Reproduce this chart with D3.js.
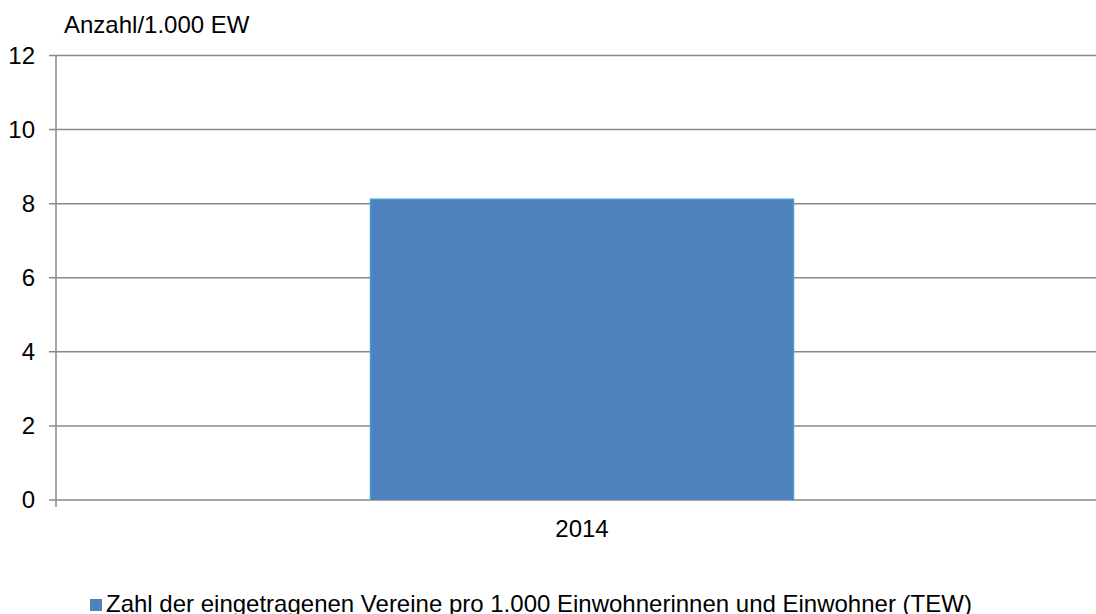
<!DOCTYPE html>
<html>
<head>
<meta charset="utf-8">
<script src="https://cdn.jsdelivr.net/npm/d3@7"></script>
<style>
  body { margin: 0; background: #fff; }
  text { font-family: "Liberation Sans", Arial, sans-serif; fill: #000; }
</style>
</head>
<body>
<script>
// data
const categories = ["2014"];
const values = [8.12];
const yTicks = [0, 2, 4, 6, 8, 10, 12];
const yTitle = "Anzahl/1.000 EW";
const seriesName = "Zahl der eingetragenen Vereine pro 1.000 Einwohnerinnen und Einwohner (TEW)";

const W = 1096, H = 614;
const plotLeft = 56, plotRight = 1108, plotTop = 55.5, plotBottom = 500;
const fontSize = "24px";

const svg = d3.select("body").append("svg")
  .attr("width", W)
  .attr("height", H);

const x = d3.scaleBand().domain(categories).range([plotLeft, plotRight]).padding(0.4265);
const y = d3.scaleLinear().domain([0, 12]).range([plotBottom, plotTop]);

// gridlines
svg.append("g")
  .selectAll("line")
  .data(yTicks)
  .join("line")
  .attr("x1", plotLeft - 7)
  .attr("x2", plotRight)
  .attr("y1", d => y(d))
  .attr("y2", d => y(d))
  .attr("stroke", "#888")
  .attr("stroke-width", 1.5);

// y axis line
svg.append("line")
  .attr("x1", plotLeft).attr("x2", plotLeft)
  .attr("y1", plotTop).attr("y2", plotBottom + 7)
  .attr("stroke", "#888")
  .attr("stroke-width", 1.5);

// y tick labels
svg.append("g")
  .selectAll("text")
  .data(yTicks)
  .join("text")
  .attr("x", 35)
  .attr("y", d => y(d))
  .attr("dy", "0.35em")
  .attr("text-anchor", "end")
  .style("font-size", fontSize)
  .text(d => d);

// bars
svg.append("g")
  .selectAll("rect")
  .data(values)
  .join("rect")
  .attr("x", (d, i) => x(categories[i]))
  .attr("y", d => y(d))
  .attr("width", x.bandwidth())
  .attr("height", d => plotBottom - y(d))
  .attr("fill", "#4f81bd");

// bar outline (top, left, right)
svg.append("g")
  .selectAll("path")
  .data(values)
  .join("path")
  .attr("d", (d, i) => {
    const x0 = x(categories[i]), x1 = x0 + x.bandwidth();
    return `M${x0},${plotBottom}V${y(d)}H${x1}V${plotBottom}`;
  })
  .attr("fill", "none")
  .attr("stroke", "#409ed6")
  .attr("stroke-width", 1.5);

// x category labels
svg.append("g")
  .selectAll("text")
  .data(categories)
  .join("text")
  .attr("x", d => x(d) + x.bandwidth() / 2)
  .attr("y", 537)
  .attr("text-anchor", "middle")
  .style("font-size", fontSize)
  .text(d => d);

// y title
svg.append("text")
  .attr("x", 64)
  .attr("y", 33)
  .style("font-size", fontSize)
  .text(yTitle);

// legend
svg.append("rect")
  .attr("x", 90).attr("y", 599)
  .attr("width", 12).attr("height", 12)
  .attr("fill", "#4f81bd");
svg.append("text")
  .attr("x", 106)
  .attr("y", 612)
  .style("font-size", fontSize)
  .text(seriesName);
</script>
</body>
</html>
